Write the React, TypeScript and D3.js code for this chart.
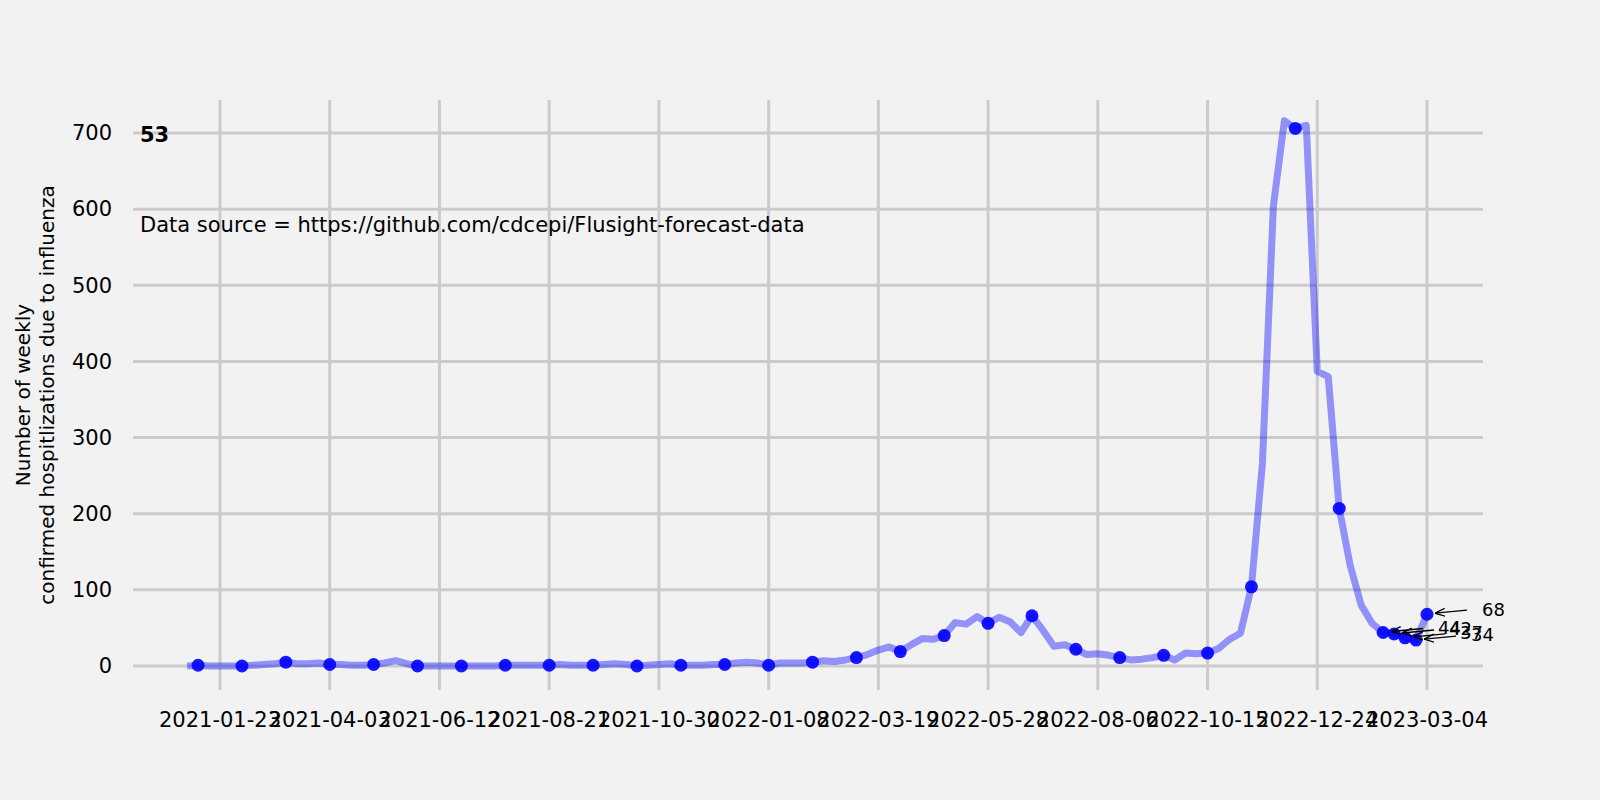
import React, { useEffect } from 'react';
import * as d3 from 'd3';

const startDate = new Date(2021, 0, 2);
const values = [
  0, 1, 0, 0, 0, 0, 1, 2, 3, 5, 3, 3, 4, 2, 2, 1, 1, 2, 4, 7,
  3, 0, 0, 0, 0, 0, 0, 0, 0, 1, 1, 1, 1, 1, 2, 1, 1, 1, 2, 3,
  2, 0, 1, 2, 3, 1, 1, 1, 2, 2, 4, 5, 4, 1, 4, 4, 4, 5, 7, 6,
  8, 11, 15, 21, 25, 19, 28, 36, 35, 40, 57, 55, 65, 56, 64, 58, 44, 66, 47, 26,
  28, 22, 15, 16, 14, 11, 8, 9, 11, 14, 8, 17, 16, 17, 23, 35, 43, 104, 266, 604,
  716, 706, 710, 387, 380, 207, 132, 80, 56, 44, 42, 37, 34, 68,
];
const dates = values.map((_, i) => d3.timeDay.offset(startDate, i * 7));
const dotIndex = values.map((_, i) => i).filter(i => (i - 1) % 4 === 0 || i >= values.length - 5);
const annotated = [109, 110, 111, 112, 113];
const tickDates = d3.range(0, 12).map(k => d3.timeDay.offset(new Date(2021, 0, 23), k * 70));
const yTicks = [0, 100, 200, 300, 400, 500, 600, 700];

export default function App() {
  useEffect(() => {
    document.body.style.margin = '0';
    document.body.style.overflow = 'hidden';
  }, []);

  const x = d3.scaleTime().domain([new Date(2021, 0, 23), new Date(2023, 2, 4)]).range([220, 1427]);
  const y = d3.scaleLinear().domain([0, 700]).range([666, 133]);
  const line = d3.line<number>().x((_, i) => x(dates[i])).y(d => y(d));
  const fmt = d3.timeFormat('%Y-%m-%d');
  const font = 'DejaVu Sans, sans-serif';

  return (
    <svg width={1600} height={800} style={{ display: 'block', background: '#f2f2f2', fontFamily: font }}>
      <defs>
        <marker id="arr" viewBox="0 0 10 10" refX="10" refY="5" markerWidth="10" markerHeight="10" orient="auto" markerUnits="userSpaceOnUse">
          <path d="M0,1 L10,5 L0,9" fill="none" stroke="#000" strokeWidth={1.3} />
        </marker>
      </defs>
      {yTicks.map(t => (
        <g key={t}>
          <line x1={133} x2={1483} y1={y(t)} y2={y(t)} stroke="#cbcbcb" strokeWidth={3} />
          <text x={112} y={y(t)} dy="0.35em" textAnchor="end" fontSize={21}>{t}</text>
        </g>
      ))}
      {tickDates.map(t => (
        <g key={+t}>
          <line x1={x(t)} x2={x(t)} y1={100} y2={690} stroke="#cbcbcb" strokeWidth={3} />
          <text x={x(t)} y={727} textAnchor="middle" fontSize={21}>{fmt(t)}</text>
        </g>
      ))}
      <path d={line(values) || ''} fill="none" stroke="blue" strokeOpacity={0.4} strokeWidth={7} strokeLinejoin="round" />
      {dotIndex.map(i => (
        <circle key={i} cx={x(dates[i])} cy={y(values[i])} r={6.5} fill="blue" fillOpacity={0.9} />
      ))}
      {annotated.map(i => {
        const px = x(dates[i]);
        const py = y(values[i]);
        return (
          <g key={i}>
            <line x1={px + 40} y1={py - 4} x2={px + 8} y2={py - 1} stroke="#000" strokeWidth={1.3} markerEnd="url(#arr)" />
            <text x={px + 55} y={py - 5} dy="0.35em" fontSize={18}>{values[i]}</text>
          </g>
        );
      })}
      <text x={140} y={135} dy="0.35em" fontSize={21} fontWeight="bold">53</text>
      <text x={140} y={225} dy="0.35em" fontSize={21}>Data source = https://github.com/cdcepi/Flusight-forecast-data</text>
      <text transform="translate(42,395) rotate(-90)" textAnchor="middle" fontSize={20}>
        <tspan x={0} dy={-12}>Number of weekly</tspan>
        <tspan x={0} dy={24}>confirmed hospitlizations due to influenza</tspan>
      </text>
    </svg>
  );
}
